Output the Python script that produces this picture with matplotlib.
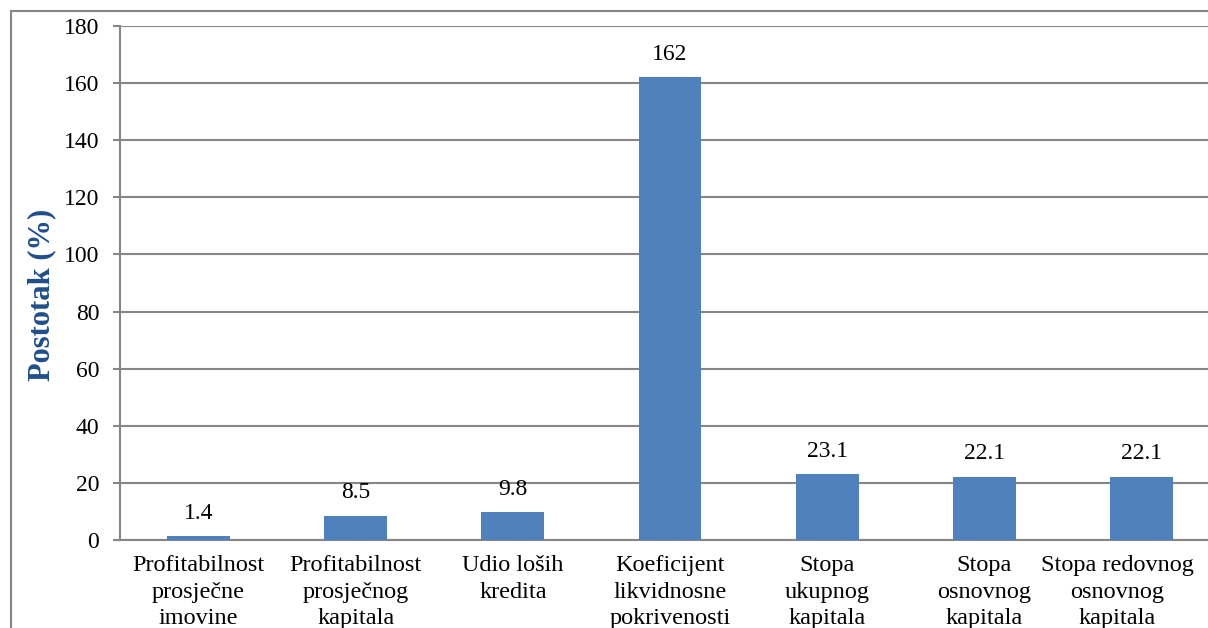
import matplotlib.pyplot as plt
from matplotlib.patches import Rectangle
from matplotlib.transforms import offset_copy

categories = [
    "Profitabilnost\nprosječne\nimovine",
    "Profitabilnost\nprosječnog\nkapitala",
    "Udio loših\nkredita",
    "Koeficijent\nlikvidnosne\npokrivenosti",
    "Stopa\nukupnog\nkapitala",
    "Stopa\nosnovnog\nkapitala",
    "Stopa redovnog\nosnovnog\nkapitala",
]
values = [1.4, 8.5, 9.8, 162, 23.1, 22.1, 22.1]
value_labels = ["1.4", "8.5", "9.8", "162", "23.1", "22.1", "22.1"]
y_ticks = [0, 20, 40, 60, 80, 100, 120, 140, 160, 180]

plt.rcParams["font.family"] = ["Liberation Serif", "DejaVu Serif"]

W, H = 1208, 628
fig = plt.figure(figsize=(W / 100, H / 100), dpi=100)
ax = fig.add_axes([120 / W, 1 - 540 / H, 1100 / W, 514 / H])

grid_c = "#868686"
x = range(len(categories))
ax.bar(x, values, width=0.4, color="#4F81BD", zorder=3)
for xi, v, lab in zip(x, values, value_labels):
    ax.annotate(lab, (xi, v), xytext=(0, 9), textcoords="offset points",
                ha="center", va="bottom", fontsize=17)

ax.set_xlim(-0.5, len(categories) - 0.5)
ax.set_ylim(0, 180)
ax.set_yticks(y_ticks)
ax.yaxis.grid(True, color=grid_c, linewidth=1.5, zorder=0)
ax.set_axisbelow(True)
ax.set_xticks(list(x))
ax.set_xticklabels(categories, fontsize=17.5, linespacing=1.35)
ax.tick_params(axis="x", length=0, pad=11)
ax.tick_params(axis="y", length=5, width=1.5, color=grid_c, labelsize=17, pad=10)
for s in ["top", "right"]:
    ax.spines[s].set_visible(False)
for s in ["left", "bottom"]:
    ax.spines[s].set_color(grid_c)
    ax.spines[s].set_linewidth(1.5)

# last label is pushed left to stay inside the frame
last = ax.get_xticklabels()[-1]
last.set_transform(offset_copy(last.get_transform(), fig=fig, x=-24, units="dots"))

fig.text(42 / W, 1 - 295 / H, "Postotak (%)", rotation=90, ha="center", va="center",
         fontsize=22, fontweight="bold", color="#1F4E8C")

fig.patches.append(Rectangle((11 / W, -0.1), 1.2, 1 - 11 / H + 0.1,
                             transform=fig.transFigure, fill=False,
                             edgecolor=grid_c, linewidth=1.5))

fig.savefig("out.png", dpi=100)
